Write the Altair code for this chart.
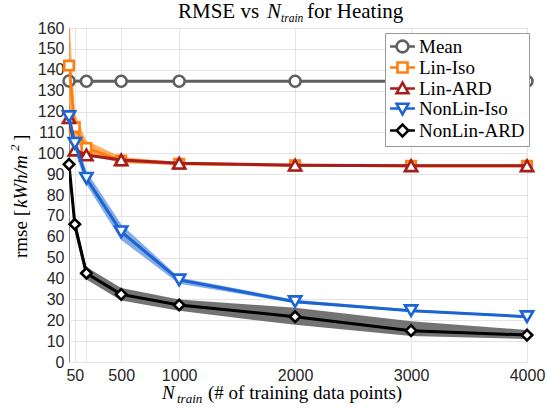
import altair as alt
import pandas as pd

# ---------------- data ----------------
series = ["Mean", "Lin-Iso", "Lin-ARD", "NonLin-Iso", "NonLin-ARD"]
colors = ["#5f5f5f", "#ff7f0e", "#a51d1d", "#1c64d2", "#000000"]
band_colors = ["#5f5f5f", "#ffa24a", "#c25050", "#6f9fe3", "#5a5a5a"]
shapes = ["circle", "square", "triangle-up", "triangle-down", "diamond"]
marker_sizes = [121, 90, 150, 150, 110]

x_vals = [50, 100, 200, 500, 1000, 2000, 3000, 4000]
mean_x = [50, 200, 500, 1000, 2000, 3000, 4000]
mean_rmse = [134.6, 134.5, 134.5, 134.5, 134.5, 134.5, 134.5]

lin_iso = [142.0, 112.5, 102.5, 96.5, 95.0, 94.2, 94.0, 94.0]
lin_iso_lo = [124.0, 106.5, 99.5, 95.2, 94.4, 93.8, 93.7, 93.7]
lin_iso_hi = [168.0, 119.0, 106.0, 98.2, 95.8, 94.6, 94.3, 94.3]

lin_ard = [117.0, 101.5, 99.2, 96.8, 95.2, 94.3, 94.0, 94.0]
lin_ard_lo = [115.0, 100.5, 98.6, 96.4, 94.9, 94.1, 93.8, 93.8]
lin_ard_hi = [119.0, 102.5, 99.8, 97.2, 95.5, 94.5, 94.2, 94.2]

nonlin_iso = [117.5, 104.8, 88.0, 62.4, 39.3, 28.9, 24.6, 21.7]
nonlin_iso_lo = [115.5, 101.0, 85.0, 58.5, 37.5, 28.2, 24.1, 21.2]
nonlin_iso_hi = [119.5, 108.5, 91.5, 66.0, 40.5, 29.8, 25.2, 22.3]

nonlin_ard = [94.7, 66.0, 42.5, 32.4, 27.3, 21.7, 15.0, 12.9]
nonlin_ard_lo = [92.5, 62.0, 39.5, 29.5, 24.5, 17.8, 12.5, 11.0]
nonlin_ard_hi = [97.0, 69.0, 45.5, 35.5, 30.0, 26.0, 19.5, 15.3]

y_ticks = [0, 10, 20, 30, 40, 50, 60, 70, 80, 90, 100, 110, 120, 130, 140, 150, 160]
x_ticks = [100, 200, 500, 1000, 2000, 3000, 4000]

title_parts = ["RMSE vs", "N", "train", "for Heating"]
xtitle_parts = ["N", "train", "(# of training data points)"]
ytitle_parts = ["rmse [", "kWh/m", "2", "]"]

SERIF = "Liberation Serif, Times New Roman, Times, DejaVu Serif, serif"
SANS = "Liberation Sans, Arial, Helvetica, DejaVu Sans, sans-serif"

# legend symbols (marker with line stubs)
legend_paths = [
    "M-2.1,0H-1M1,0H2.1M-1,0A1,1,0,1,1,1,0A1,1,0,1,1,-1,0Z",
    "M-2.1,0H-0.85M0.85,0H2.1M-0.85,-0.85H0.85V0.85H-0.85Z",
    "M-2.1,0H-0.56M0.56,0H2.1M0,-1L1,0.8L-1,0.8Z",
    "M-2.1,0H-0.56M0.56,0H2.1M0,1L1,-0.8L-1,-0.8Z",
    "M-2.1,0H-1M1,0H2.1M0,-1L1,0L0,1L-1,0Z",
]

# ---------------- build table ----------------
rows = []
for xv, yv in zip(mean_x, mean_rmse):
    rows.append(dict(series="Mean", x=xv, y=yv, lo=yv, hi=yv))
for name, ys, los, his in [
    ("Lin-Iso", lin_iso, lin_iso_lo, lin_iso_hi),
    ("Lin-ARD", lin_ard, lin_ard_lo, lin_ard_hi),
    ("NonLin-Iso", nonlin_iso, nonlin_iso_lo, nonlin_iso_hi),
    ("NonLin-ARD", nonlin_ard, nonlin_ard_lo, nonlin_ard_hi),
]:
    for xv, yv, l, h in zip(x_vals, ys, los, his):
        rows.append(dict(series=name, x=xv, y=yv, lo=l, hi=h))
df = pd.DataFrame(rows)

# ---------------- scales / axes ----------------
x_scale = alt.Scale(domain=[50, 4000], nice=False, zero=False)
y_scale = alt.Scale(domain=[0, 160], nice=False, zero=False)

x_axis = alt.Axis(
    values=x_ticks, format="d",
    labelExpr="datum.value == 100 ? '50' : (datum.value == 200 ? '' : datum.label)",
    title=None, domain=False, ticks=False, labelFlush=False, labelOverlap=False,
    labelFont=SANS, labelFontSize=16, labelColor="#262626",
    labelPadding=5, gridColor="#e4e4e4",
)
y_axis = alt.Axis(
    values=y_ticks, title=None, domain=False, ticks=False, labelFlush=False,
    labelOverlap=False, labelFont=SANS, labelFontSize=16,
    labelColor="#262626", labelPadding=5, gridColor="#e4e4e4",
)
X = alt.X("x:Q", scale=x_scale, axis=x_axis)
Y = alt.Y("y:Q", scale=y_scale, axis=y_axis)

base = alt.Chart(df)
layers = []

# bands
for s, bc in zip(series[1:], band_colors[1:]):
    layers.append(
        base.transform_filter(alt.datum.series == s)
        .mark_area(clip=True, color=bc, opacity=0.85)
        .encode(x=X, y=alt.Y("lo:Q", scale=y_scale, axis=y_axis), y2="hi:Q")
    )

# lines + markers per series
for s, c, sh, sz in zip(series, colors, shapes, marker_sizes):
    sub = base.transform_filter(alt.datum.series == s)
    layers.append(sub.mark_line(clip=True, color=c, strokeWidth=3).encode(x=X, y=Y))
    layers.append(
        sub.mark_point(shape=sh, size=sz, filled=True, fill="white", stroke=c,
                       strokeWidth=2.6, opacity=1)
        .encode(x=X, y=Y)
    )

legend_props = dict(
    title=None, orient="none", legendX=316, legendY=5,
    padding=4, symbolOffset=4, rowPadding=-1,
    labelFont=SERIF, labelFontSize=19, labelColor="black",
    labelOffset=7, symbolSize=140, symbolStrokeWidth=2.6,
    symbolFillColor="white", strokeColor="#9a9a9a", fillColor="white",
)

# legend-only layer (points placed outside the plot and clipped)
legend_layer = (
    base.transform_calculate(xo="-10000")
    .mark_point(clip=True, filled=False, strokeWidth=2.6, opacity=1)
    .encode(
        x=alt.X("xo:Q", scale=x_scale, axis=x_axis),
        y=Y,
        color=alt.Color("series:N", scale=alt.Scale(domain=series, range=colors),
                        legend=alt.Legend(**legend_props)),
        shape=alt.Shape("series:N", scale=alt.Scale(domain=series, range=legend_paths),
                        legend=alt.Legend(**legend_props)),
    )
)
layers.append(legend_layer)


# text pieces (title / axis titles with mixed italic)
def txt(s, x, y, size, italic=False, angle=0):
    kw = dict(align="left", baseline="alphabetic", font=SERIF,
              fontSize=size, fontStyle="italic" if italic else "normal", color="black")
    if angle:
        kw["angle"] = angle
    return alt.Chart(pd.DataFrame({"t": [s]})).mark_text(**kw).encode(
        x=alt.value(x), y=alt.value(y), text="t:N")


layers += [
    txt(title_parts[0], 109, -10, 21),
    txt(title_parts[1], 198, -10, 21, italic=True),
    txt(title_parts[2], 212, -6, 11.5, italic=True),
    txt(title_parts[3], 238, -10, 21),
    txt(xtitle_parts[0], 93, 371, 19, italic=True),
    txt(xtitle_parts[1], 108, 375, 13, italic=True),
    txt(xtitle_parts[2], 139, 371, 19),
    txt(ytitle_parts[0], -42, 230, 19, angle=270),
    txt(ytitle_parts[1], -42, 180, 19, italic=True, angle=270),
    txt(ytitle_parts[2], -50, 123, 13, italic=True, angle=270),
    txt(ytitle_parts[3], -42, 113, 19, angle=270),
]

chart = (
    alt.layer(*layers)
    .resolve_scale(color="independent", shape="independent")
    .properties(
        width=458, height=334,
        autosize=alt.AutoSizeParams(type="none"),
        padding={"left": 69, "top": 28, "right": 20, "bottom": 47},
        background="white",
    )
    .configure_view(stroke="#8c8c8c", strokeWidth=1)
)

chart.save("out.html", embed_options={"renderer": "svg", "actions": False})
